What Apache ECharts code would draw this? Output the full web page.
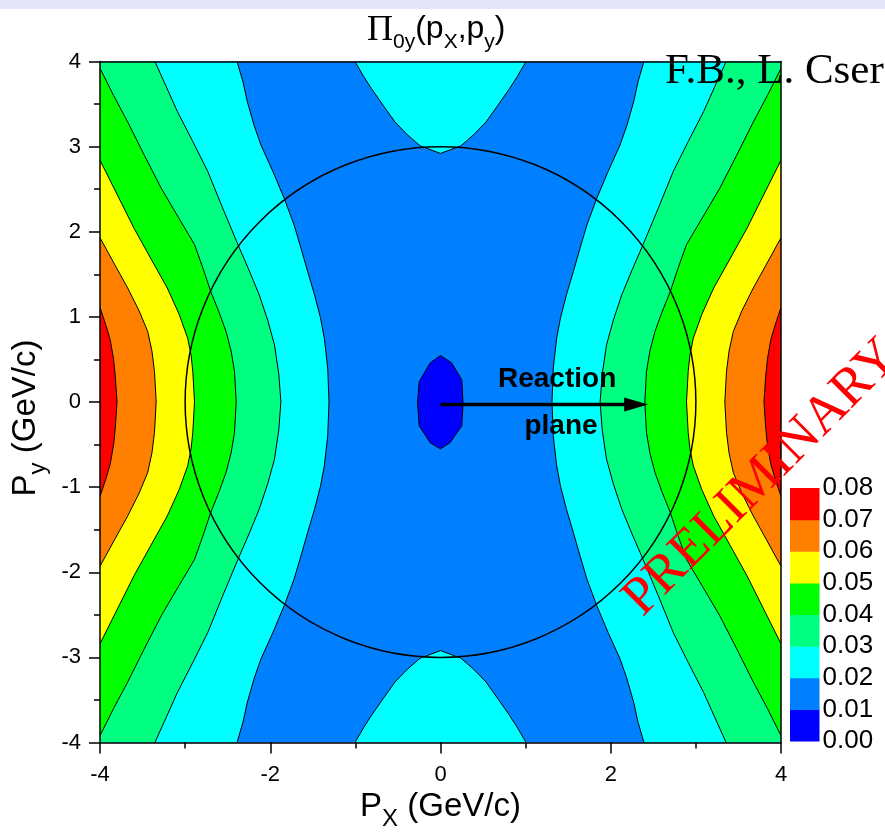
<!DOCTYPE html>
<html><head><meta charset="utf-8">
<script src="https://cdn.jsdelivr.net/npm/echarts@6/dist/echarts.min.js"></script>
<style>html,body{margin:0;padding:0;background:#fff}#c{width:885px;height:833px}</style>
</head><body><div id="c"></div>
<script>
// ---------- data ----------
const xRange = [-4, 4];
const yRange = [-4, 4];
const levels = [0.00, 0.01, 0.02, 0.03, 0.04, 0.05, 0.06, 0.07, 0.08];
const bandColors = ['#0000ff', '#0080ff', '#00ffff', '#00ff80', '#00ff00', '#ffff00', '#ff8000', '#ff0000'];

// contour 0.02 (right / left), top to bottom
const c02R = [[2.39,4],[2.32,3.76],[2.27,3.53],[2.19,3.25],[2.11,3.02],[1.97,2.71],[1.835,2.39],[1.72,2.08],[1.64,1.81],[1.56,1.53],[1.48,1.26],[1.41,0.99],[1.365,0.75],[1.325,0.40],[1.31,0],[1.325,-0.40],[1.365,-0.75],[1.41,-0.99],[1.48,-1.26],[1.56,-1.53],[1.64,-1.81],[1.72,-2.08],[1.835,-2.39],[1.97,-2.71],[2.11,-3.02],[2.19,-3.25],[2.27,-3.53],[2.32,-3.76],[2.39,-4]];
const c02L = [[-2.39,4],[-2.32,3.76],[-2.27,3.53],[-2.19,3.25],[-2.11,3.02],[-1.97,2.71],[-1.835,2.39],[-1.72,2.08],[-1.64,1.81],[-1.56,1.53],[-1.48,1.26],[-1.41,0.99],[-1.365,0.75],[-1.325,0.40],[-1.31,0],[-1.325,-0.40],[-1.365,-0.75],[-1.41,-0.99],[-1.48,-1.26],[-1.56,-1.53],[-1.64,-1.81],[-1.72,-2.08],[-1.835,-2.39],[-1.97,-2.71],[-2.11,-3.02],[-2.19,-3.25],[-2.27,-3.53],[-2.32,-3.76],[-2.39,-4]];
// top and bottom 0.02 islands
const c02Top = [[-1.005,4],[-0.90,3.82],[-0.81,3.68],[-0.67,3.48],[-0.535,3.29],[-0.39,3.14],[-0.24,3.01],[0,2.92],[0.24,3.01],[0.39,3.14],[0.535,3.29],[0.67,3.48],[0.81,3.68],[0.90,3.82],[1.005,4]];
const c02Bot = [[-1.005,-4],[-0.90,-3.82],[-0.81,-3.68],[-0.67,-3.48],[-0.535,-3.29],[-0.39,-3.14],[-0.24,-3.01],[0,-2.92],[0.24,-3.01],[0.39,-3.14],[0.535,-3.29],[0.67,-3.48],[0.81,-3.68],[0.90,-3.82],[1.005,-4]];
// contour 0.03
const c03R = [[3.355,4],[3.22,3.70],[3.09,3.41],[2.91,3.06],[2.735,2.71],[2.56,2.28],[2.38,1.85],[2.25,1.55],[2.13,1.26],[2.03,0.96],[1.95,0.67],[1.90,0.33],[1.875,0],[1.90,-0.33],[1.95,-0.67],[2.03,-0.96],[2.13,-1.26],[2.25,-1.55],[2.38,-1.85],[2.56,-2.28],[2.735,-2.71],[2.91,-3.06],[3.09,-3.41],[3.22,-3.70],[3.355,-4]];
const c03L = [[-3.355,4],[-3.22,3.70],[-3.09,3.41],[-2.91,3.06],[-2.735,2.71],[-2.56,2.28],[-2.38,1.85],[-2.25,1.55],[-2.13,1.26],[-2.03,0.96],[-1.95,0.67],[-1.90,0.33],[-1.875,0],[-1.90,-0.33],[-1.95,-0.67],[-2.03,-0.96],[-2.13,-1.26],[-2.25,-1.55],[-2.38,-1.85],[-2.56,-2.28],[-2.735,-2.71],[-2.91,-3.06],[-3.09,-3.41],[-3.22,-3.70],[-3.355,-4]];
// contour 0.04
const c04R = [[4,3.92],[3.84,3.60],[3.675,3.29],[3.48,2.90],[3.28,2.51],[3.08,2.17],[2.89,1.85],[2.79,1.57],[2.70,1.30],[2.60,1.05],[2.52,0.83],[2.46,0.60],[2.42,0.36],[2.40,0],[2.42,-0.36],[2.46,-0.60],[2.52,-0.83],[2.60,-1.05],[2.70,-1.30],[2.79,-1.57],[2.89,-1.85],[3.08,-2.17],[3.28,-2.51],[3.48,-2.90],[3.675,-3.29],[3.84,-3.60],[4,-3.92]];
const c04L = [[-4,3.92],[-3.84,3.60],[-3.675,3.29],[-3.48,2.90],[-3.28,2.51],[-3.08,2.17],[-2.89,1.85],[-2.79,1.57],[-2.70,1.30],[-2.60,1.05],[-2.52,0.83],[-2.46,0.60],[-2.42,0.36],[-2.40,0],[-2.42,-0.36],[-2.46,-0.60],[-2.52,-0.83],[-2.60,-1.05],[-2.70,-1.30],[-2.79,-1.57],[-2.89,-1.85],[-3.08,-2.17],[-3.28,-2.51],[-3.48,-2.90],[-3.675,-3.29],[-3.84,-3.60],[-4,-3.92]];
// contour 0.05
const c05R = [[4,2.84],[3.80,2.44],[3.60,2.04],[3.40,1.68],[3.21,1.34],[3.07,1.03],[2.97,0.75],[2.93,0.55],[2.91,0.36],[2.89,0],[2.91,-0.36],[2.93,-0.55],[2.97,-0.75],[3.07,-1.03],[3.21,-1.34],[3.40,-1.68],[3.60,-2.04],[3.80,-2.44],[4,-2.84]];
const c05L = [[-4,2.84],[-3.80,2.44],[-3.60,2.04],[-3.40,1.68],[-3.21,1.34],[-3.07,1.03],[-2.97,0.75],[-2.93,0.55],[-2.91,0.36],[-2.89,0],[-2.91,-0.36],[-2.93,-0.55],[-2.97,-0.75],[-3.07,-1.03],[-3.21,-1.34],[-3.40,-1.68],[-3.60,-2.04],[-3.80,-2.44],[-4,-2.84]];
// contour 0.06
const c06R = [[4,1.93],[3.83,1.62],[3.675,1.34],[3.54,1.07],[3.44,0.83],[3.39,0.60],[3.36,0.36],[3.34,0],[3.36,-0.36],[3.39,-0.60],[3.44,-0.83],[3.54,-1.07],[3.675,-1.34],[3.83,-1.62],[4,-1.93]];
const c06L = [[-4,1.93],[-3.83,1.62],[-3.675,1.34],[-3.54,1.07],[-3.44,0.83],[-3.39,0.60],[-3.36,0.36],[-3.34,0],[-3.36,-0.36],[-3.39,-0.60],[-3.44,-0.83],[-3.54,-1.07],[-3.675,-1.34],[-3.83,-1.62],[-4,-1.93]];
// contour 0.07
const c07R = [[4,1.11],[3.93,0.90],[3.88,0.73],[3.84,0.50],[3.82,0.30],[3.80,0],[3.82,-0.30],[3.84,-0.50],[3.88,-0.73],[3.93,-0.90],[4,-1.11]];
const c07L = [[-4,1.11],[-3.93,0.90],[-3.88,0.73],[-3.84,0.50],[-3.82,0.30],[-3.80,0],[-3.82,-0.30],[-3.84,-0.50],[-3.88,-0.73],[-3.93,-0.90],[-4,-1.11]];
// contour 0.01 (central island)
const c01Center = [[0,0.545],[0.13,0.46],[0.25,0.26],[0.265,-0.02],[0.25,-0.28],[0.11,-0.48],[0,-0.55],[-0.12,-0.48],[-0.25,-0.28],[-0.27,-0.01],[-0.25,0.24],[-0.12,0.46]];

const circleData = [[0, 0, 3]];                 // centre x, y, radius
const arrowData = [[0, -0.03, 2.44, -0.03]];     // from -> to
const arrowLabels = [[1.37, 0.264, 'Reaction'], [1.416, -0.29, 'plane']];

// ---------- regions ----------
const regions = [
  {pts: c02L, side: 'left', band: 2}, {pts: c02R, side: 'right', band: 2},
  {pts: c02Top, side: 'top', band: 2}, {pts: c02Bot, side: 'bottom', band: 2},
  {pts: c03L, side: 'left', band: 3}, {pts: c03R, side: 'right', band: 3},
  {pts: c04L, side: 'left', band: 4}, {pts: c04R, side: 'right', band: 4},
  {pts: c05L, side: 'left', band: 5}, {pts: c05R, side: 'right', band: 5},
  {pts: c06L, side: 'left', band: 6}, {pts: c06R, side: 'right', band: 6},
  {pts: c07L, side: 'left', band: 7}, {pts: c07R, side: 'right', band: 7},
  {pts: c01Center, side: 'closed', band: 0}
];

function closedPts(r) {
  const p = r.pts.slice();
  const f = p[0], l = p[p.length - 1];
  if (r.side === 'left') { p.push([xRange[0], l[1]], [xRange[0], f[1]]); }
  else if (r.side === 'right') { p.push([xRange[1], l[1]], [xRange[1], f[1]]); }
  else if (r.side === 'top') { p.push([l[0], yRange[1]], [f[0], yRange[1]]); }
  else if (r.side === 'bottom') { p.push([l[0], yRange[0]], [f[0], yRange[0]]); }
  return p;
}

const chart = echarts.init(document.getElementById('c'), null, {renderer: 'canvas'});
const SANS = 'Liberation Sans, Arial, Helvetica, sans-serif';
const SERIF = 'Liberation Serif, Times New Roman, serif';

const nameRich = {
  m: {fontSize: 33, fontFamily: SANS, fontWeight: 'normal', color: '#000', lineHeight: 33, verticalAlign: 'top'},
  sub: {fontSize: 24, fontFamily: SANS, fontWeight: 'normal', color: '#000', lineHeight: 24, verticalAlign: 'top', padding: [17, 0, 0, 0]}
};

const option = {
  animation: false,
  backgroundColor: '#ffffff',
  title: {
    text: '{pi|Π}{sub|0y}{m|(p}{sub|X}{m|,p}{sub|y}{m|)}',
    left: 367, top: 13, padding: 0,
    textStyle: {
      fontWeight: 'normal',
      rich: {
        pi: {fontSize: 36, fontFamily: SERIF, fontWeight: 'normal', color: '#000', lineHeight: 34, verticalAlign: 'top'},
        m: {fontSize: 32, fontFamily: SANS, fontWeight: 'normal', color: '#000', lineHeight: 34, verticalAlign: 'top'},
        sub: {fontSize: 21, fontFamily: SANS, fontWeight: 'normal', color: '#000', lineHeight: 20, verticalAlign: 'top', padding: [19, 0, 0, 0]}
      }
    }
  },
  graphic: [
    {type: 'rect', left: 0, top: 0, shape: {width: 885, height: 9}, style: {fill: '#e6e6f8'}, z: 0},
    {type: 'text', x: 665, y: 50, style: {text: 'F.B., L. Cser', font: '43px ' + SERIF, fill: '#000', textVerticalAlign: 'alphabetic', verticalAlign: 'alphabetic'}, z: 20},
    {type: 'text', x: 762, y: 478, rotation: 45 * Math.PI / 180,
     style: {text: 'PRELIMINARY', font: '54px ' + SERIF, fill: '#ff0000', textAlign: 'center', align: 'center', textVerticalAlign: 'middle', verticalAlign: 'middle'}, z: 30}
  ],
  grid: [
    {left: 100, top: 61.5, width: 681, height: 681, show: true, backgroundColor: bandColors[1], borderWidth: 0,
     containLabel: false, outerBoundsMode: 'none'},
    {left: 790, top: 488, width: 29.5, height: 253, containLabel: false, outerBoundsMode: 'none'}
  ],
  xAxis: [
    {type: 'value', gridIndex: 0, min: xRange[0], max: xRange[1], interval: 2, position: 'bottom', z: 10,
     axisLine: {show: true, onZero: false, lineStyle: {color: '#000', width: 1.5}},
     axisTick: {show: true, length: 11, lineStyle: {color: '#000', width: 1.5}},
     minorTick: {show: true, splitNumber: 2, length: 6, lineStyle: {color: '#000', width: 1.5}},
     splitLine: {show: false}, minorSplitLine: {show: false},
     axisLabel: {fontSize: 22, color: '#000', fontFamily: SANS, margin: 21},
     name: '{m|P}{sub|X}{m| (GeV/c)}', nameLocation: 'middle', nameGap: 46,
     nameTextStyle: {rich: nameRich}},
    {type: 'value', gridIndex: 0, min: xRange[0], max: xRange[1], position: 'top', z: 10,
     axisLine: {show: true, onZero: false, lineStyle: {color: '#000', width: 1.5}},
     axisTick: {show: false}, axisLabel: {show: false}, splitLine: {show: false}},
    {type: 'value', gridIndex: 1, min: 0, max: 1, show: false}
  ],
  yAxis: [
    {type: 'value', gridIndex: 0, min: yRange[0], max: yRange[1], interval: 1, position: 'left', z: 10,
     axisLine: {show: true, onZero: false, lineStyle: {color: '#000', width: 1.5}},
     axisTick: {show: true, length: 11, lineStyle: {color: '#000', width: 1.5}},
     minorTick: {show: true, splitNumber: 2, length: 6, lineStyle: {color: '#000', width: 1.5}},
     splitLine: {show: false}, minorSplitLine: {show: false},
     axisLabel: {fontSize: 22, color: '#000', fontFamily: SANS, margin: 19},
     name: '{m|P}{sub|y}{m| (GeV/c)}', nameLocation: 'middle', nameGap: 55,
     nameTextStyle: {rich: nameRich, padding: [0, 32, 0, 0]}},
    {type: 'value', gridIndex: 0, min: yRange[0], max: yRange[1], position: 'right', z: 10,
     axisLine: {show: true, onZero: false, lineStyle: {color: '#000', width: 1.5}},
     axisTick: {show: false}, axisLabel: {show: false}, splitLine: {show: false}},
    {type: 'value', gridIndex: 1, min: levels[0], max: levels[levels.length - 1], interval: 0.01, position: 'right',
     axisLine: {show: false}, axisTick: {show: false}, splitLine: {show: false},
     axisLabel: {fontSize: 26, color: '#000', fontFamily: SANS, margin: 3, formatter: v => v.toFixed(2)}}
  ],
  series: [
    {type: 'custom', name: 'bands', xAxisIndex: 0, yAxisIndex: 0, clip: true, z: 2,
     data: regions.map((r, i) => [i, 0]),
     renderItem: function (params, api) {
       const r = regions[params.dataIndex];
       return {type: 'polygon', shape: {points: closedPts(r).map(p => api.coord(p))},
               style: {fill: bandColors[r.band], stroke: null}};
     }},
    {type: 'custom', name: 'contours', xAxisIndex: 0, yAxisIndex: 0, clip: true, z: 3,
     data: regions.map((r, i) => [i, 0]),
     renderItem: function (params, api) {
       const r = regions[params.dataIndex];
       const pts = r.pts.map(p => api.coord(p));
       return {type: r.side === 'closed' ? 'polygon' : 'polyline', shape: {points: pts},
               style: {fill: null, stroke: '#000', lineWidth: 1}};
     }},
    {type: 'custom', name: 'circle', xAxisIndex: 0, yAxisIndex: 0, clip: true, z: 4,
     data: circleData,
     renderItem: function (params, api) {
       const c = api.coord([api.value(0), api.value(1)]);
       const s = api.size([api.value(2), api.value(2)]);
       return {type: 'circle', shape: {cx: c[0], cy: c[1], r: (s[0] + s[1]) / 2},
               style: {fill: null, stroke: '#000', lineWidth: 1.5}};
     }},
    {type: 'custom', name: 'arrow', xAxisIndex: 0, yAxisIndex: 0, clip: true, z: 5,
     data: arrowData,
     renderItem: function (params, api) {
       const a = api.coord([api.value(0), api.value(1)]);
       const b = api.coord([api.value(2), api.value(3)]);
       const hl = 24, hw = 7;
       return {type: 'group', children: [
         {type: 'line', shape: {x1: a[0], y1: a[1], x2: b[0] - hl + 2, y2: b[1]},
          style: {stroke: '#000', lineWidth: 3.5}},
         {type: 'polygon', shape: {points: [[b[0], b[1]], [b[0] - hl, b[1] - hw], [b[0] - hl, b[1] + hw]]},
          style: {fill: '#000'}}
       ]};
     }},
    {type: 'custom', name: 'arrowText', xAxisIndex: 0, yAxisIndex: 0, clip: false, z: 6,
     data: arrowLabels,
     renderItem: function (params, api) {
       const d = arrowLabels[params.dataIndex];
       const p = api.coord([d[0], d[1]]);
       return {type: 'text', style: {text: d[2], x: p[0], y: p[1], fill: '#000',
               font: 'bold 28px ' + SANS, textAlign: 'center', align: 'center',
               textVerticalAlign: 'middle', verticalAlign: 'middle'}};
     }},
    {type: 'custom', name: 'colorbar', xAxisIndex: 2, yAxisIndex: 2, z: 2,
     data: bandColors.map((c, i) => [levels[i], levels[i + 1]]),
     renderItem: function (params, api) {
       const p0 = api.coord([0, api.value(1)]);
       const p1 = api.coord([1, api.value(0)]);
       return {type: 'rect', shape: {x: p0[0], y: p0[1], width: p1[0] - p0[0], height: p1[1] - p0[1] + 0.5},
               style: {fill: bandColors[params.dataIndex]}};
     }}
  ]
};
chart.setOption(option);
</script></body></html>
